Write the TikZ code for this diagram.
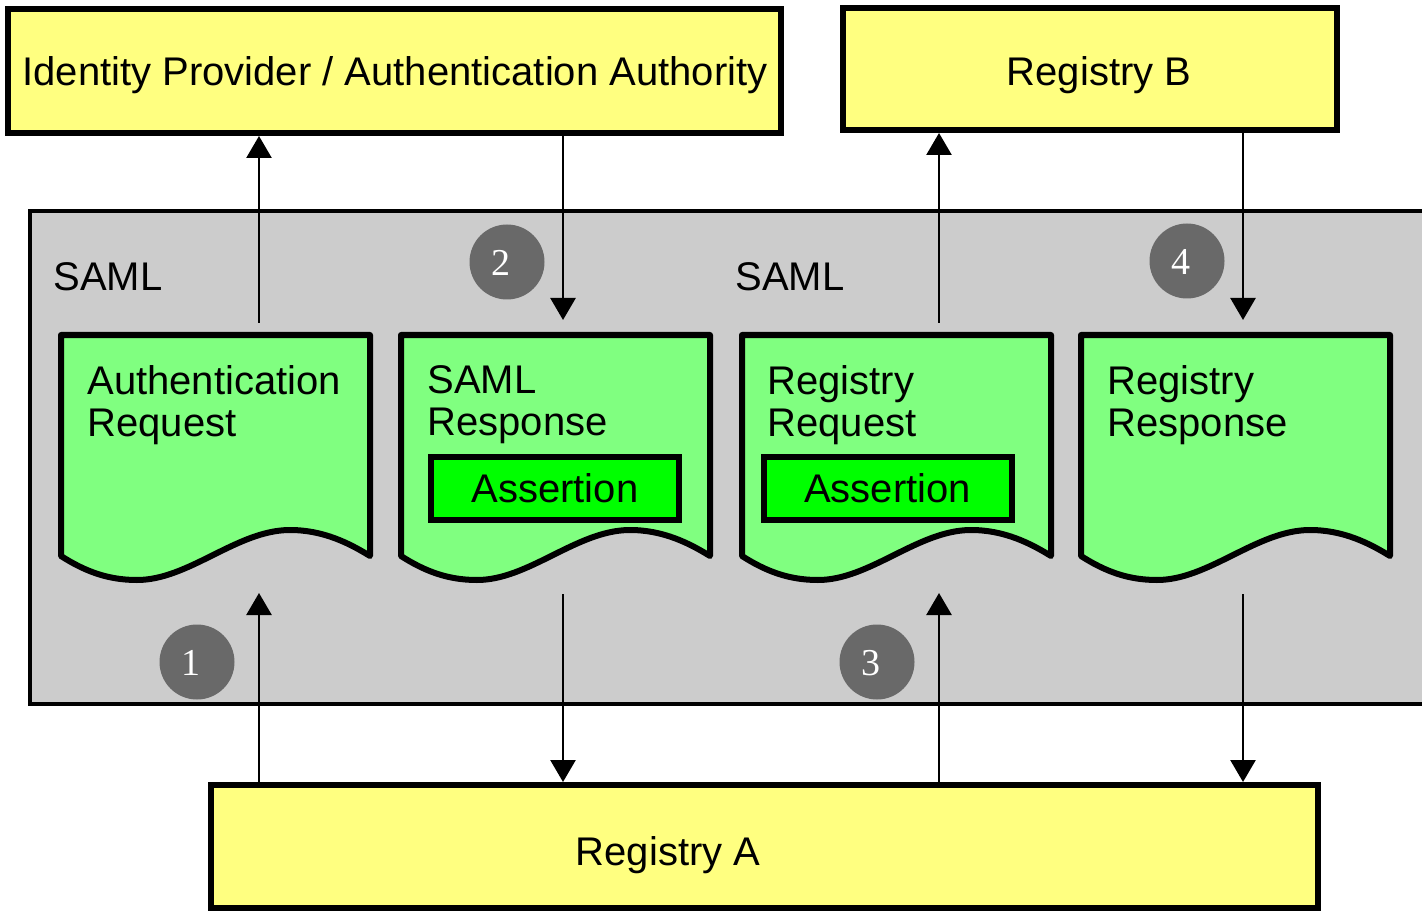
\documentclass[tikz,border=0pt]{standalone}
\usepackage{fontspec}
\setmainfont{Liberation Sans}
\newfontfamily\numfont{Liberation Serif}
\usetikzlibrary{arrows.meta}

\definecolor{boxyellow}{HTML}{FFFF80}
\definecolor{docgreen}{HTML}{80FF80}
\definecolor{assertgreen}{HTML}{00FF00}
\definecolor{panelgray}{HTML}{CCCCCC}
\definecolor{stepgray}{HTML}{696969}

\tikzset{
  txt/.style={inner sep=0pt, font=\fontsize{20pt}{21pt}\selectfont},
  partybox/.style={draw=black, line width=3pt, fill=boxyellow, rectangle, inner sep=0pt},
  docstyle/.style={draw=black, line width=3pt, fill=docgreen, line join=round},
  doctext/.style={txt, anchor=north west, align=left},
  assertbox/.style={draw=black, line width=3pt, fill=assertgreen, rectangle, inner sep=0pt,
    minimum width=124pt, minimum height=31.5pt, font=\fontsize{20pt}{21pt}\selectfont,
    text height=14.3pt, text depth=0pt},
  stepmark/.style={circle, fill=stepgray, minimum size=37.5pt, inner sep=0pt},
  steptext/.style={text=white, inner sep=0pt, font=\numfont\fontsize{19pt}{20pt}\selectfont},
  flow/.style={line width=1.3pt, -{Triangle[width=12.5pt, length=11pt]}},
  docpic/.pic={
    \draw[docstyle] (0,0) -- (309,0) -- (309,221)
      .. controls (288,208) and (262,195) .. (229,195)
      .. controls (176,195) and (128,245) .. (76,245)
      .. controls (48,245) and (25,237) .. (0,221) -- cycle;
  }
}

\begin{document}
\begin{tikzpicture}[x=0.5pt, y=-0.5pt]
  \useasboundingbox (0,0) rectangle (1422,914);

  % SAML exchange panel (open on the right)
  \fill[panelgray] (30,211) rectangle (1422,704);
  \draw[line width=2pt] (1422,211) -- (30,211) -- (30,704) -- (1422,704);
  \node[txt, anchor=base west] (saml1) at (53,291) {SAML};
  \node[txt, anchor=base west] (saml2) at (735,291) {SAML};

  % parties
  \node[partybox, minimum width=386.5pt, minimum height=62pt] (idp) at (394.5,71) {};
  \node[txt, anchor=base] (idpt) at (395,86) {Identity Provider / Authentication Authority};
  \node[partybox, minimum width=247pt, minimum height=61pt] (regB) at (1090,69) {};
  \node[txt, anchor=base] (regBt) at (1099,86) {Registry B};
  \node[partybox, minimum width=553.5pt, minimum height=61.5pt] (regA) at (764.5,846.5) {};
  \node[txt, anchor=base] (regAt) at (668,865) {Registry A};

  % messages
  \pic at (61,335) {docpic};
  \pic at (401,335) {docpic};
  \pic at (742,335) {docpic};
  \pic at (1081,335) {docpic};
  \node[doctext] (m1) at (87,365) {Authentication\\Request};
  \node[doctext] (m2) at (427,365) {SAML\\Response};
  \node[doctext] (m3) at (767,365) {Registry\\Request};
  \node[doctext] (m4) at (1107,365) {Registry\\Response};
  \node[assertbox] (as2) at (555,488.5) {Assertion};
  \node[assertbox] (as3) at (887.5,488.5) {Assertion};

  % step markers
  \node[stepmark] (s1) at (197,662) {};
  \node[steptext] (s1t) at (191,663) {1};
  \node[stepmark] (s2) at (507,262) {};
  \node[steptext] (s2t) at (501,263) {2};
  \node[stepmark] (s3) at (877,662) {};
  \node[steptext] (s3t) at (871,663) {3};
  \node[stepmark] (s4) at (1187,261) {};
  \node[steptext] (s4t) at (1181,262) {4};

  % connector ends
  \coordinate (c1) at (259,593);
  \coordinate (c2) at (259,323);
  \coordinate (c3) at (563,320);
  \coordinate (c4) at (563,594);
  \coordinate (c5) at (939,593);
  \coordinate (c6) at (939,323);
  \coordinate (c7) at (1243,320);
  \coordinate (c8) at (1243,594);

  \draw[flow] (regA.north -| c1) -- (c1);
  \draw[flow] (c2) -- (idp.south -| c2);
  \draw[flow] (idp.south -| c3) -- (c3);
  \draw[flow] (c4) -- (regA.north -| c4);
  \draw[flow] (regA.north -| c5) -- (c5);
  \draw[flow] (c6) -- (regB.south -| c6);
  \draw[flow] (regB.south -| c7) -- (c7);
  \draw[flow] (c8) -- (regA.north -| c8);
\end{tikzpicture}
\end{document}
